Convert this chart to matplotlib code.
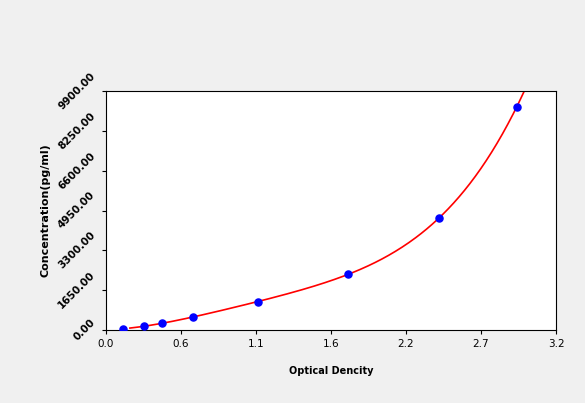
import numpy as np
import matplotlib
matplotlib.use("Agg")
import matplotlib.pyplot as plt

od = [0.12, 0.27, 0.40, 0.62, 1.08, 1.72, 2.37, 2.92]
conc = [40, 165, 290, 540, 1160, 2320, 4640, 9237]
xticks = [0, 0.5333, 1.0667, 1.6, 2.1333, 2.6667, 3.2]
xlabels = ["0.0", "0.6", "1.1", "1.6", "2.2", "2.7", "3.2"]
yticks = [0, 1650, 3300, 4950, 6600, 8250, 9900]
ylabels = ["0.00", "1650.00", "3300.00", "4950.00", "6600.00", "8250.00", "9900.00"]

fig = plt.figure(figsize=(5.85, 4.03), dpi=100, facecolor="#f0f0f0")
ax = fig.add_axes([106/585, 73/403, 450/585, 239/403])
ax.set_facecolor("white")

coef = np.polyfit(od, conc, 4)
xs = np.linspace(0.17, 3.05, 300)
ys = np.polyval(coef, xs)
ax.plot(xs, ys, color="red", lw=1.2, zorder=2)
ax.scatter(od, conc, color="blue", s=26, zorder=3)

ax.set_xlim(0, 3.2)
ax.set_ylim(0, 9900)
ax.set_xticks(xticks)
ax.set_xticklabels(xlabels, fontsize=7.5)
ax.set_yticks(yticks)
ax.set_yticklabels(ylabels, fontsize=7.5, fontweight="bold", rotation=45, va="center")
ax.tick_params(length=3)
ax.set_xlabel("Optical Dencity", fontsize=7, fontweight="bold", labelpad=12)
ax.set_ylabel("Concentration(pg/ml)", fontsize=8, fontweight="bold")
fig.savefig("out.png", dpi=100, facecolor=fig.get_facecolor())
